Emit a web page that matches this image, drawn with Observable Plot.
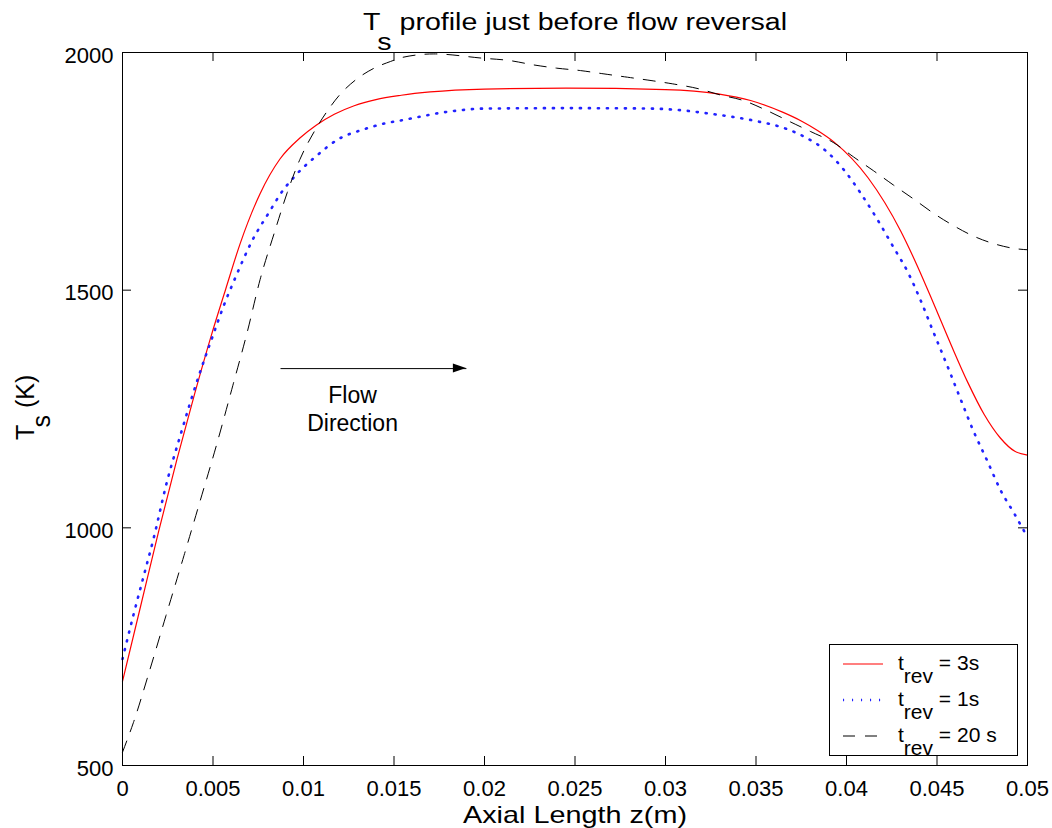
<!DOCTYPE html>
<html><head><meta charset="utf-8">
<script src="https://cdn.jsdelivr.net/npm/d3@7"></script>
<script src="https://cdn.jsdelivr.net/npm/@observablehq/plot@0.6"></script>
<style>body{margin:0;background:#fff;}</style>
</head><body><div id="chart"></div>
<script>
// ---- data ----
const zRev3 = [0,0.001,0.002,0.003,0.004,0.0049,0.0057,0.0065,0.0076,0.0087,0.0098,0.0107,0.0117,0.0128,0.0140,0.0154,0.0170,0.0200,0.0245,0.0300,0.0329,0.0347,0.0365,0.0375,0.0384,0.0393,0.0412,0.0430,0.0439,0.0448,0.0458,0.0467,0.0476,0.0485,0.0493,0.0500];
const tRev3 = [677,835,993,1143,1284,1404,1502,1598,1703,1776,1820,1847,1870,1888,1901,1910,1917,1923,1925,1922,1913,1899,1874,1856,1836,1812,1736,1624,1552,1473,1383,1306,1239,1189,1161,1153];

const zRev1 = [0,0.0006,0.00125,0.0017,0.00245,0.0032,0.0042,0.005,0.0056,0.0063,0.00715,0.0082,0.0087,0.0096,0.0107,0.0119,0.0133,0.0144,0.0155,0.0181,0.02,0.0246,0.0292,0.031,0.0325,0.0338,0.0351,0.0364,0.0375,0.0388,0.0399,0.0408,0.0417,0.0426,0.0434,0.0441,0.0448,0.0456,0.0463,0.047,0.0478,0.0485,0.0493,0.05];
const tRev1 = [724,816,910,975,1096,1195,1318,1405,1468,1532,1603,1670,1701,1743,1782,1817,1838,1850,1858,1876,1882,1883,1882,1878,1871,1864,1855,1843,1826,1795,1751,1703,1649,1590,1537,1478,1412,1338,1271,1205,1139,1080,1028,980];

const zRev20 = [0,0.0006,0.0015,0.0024,0.0034,0.0043,0.0052,0.0061,0.0069,0.0076,0.0084,0.0091,0.0098,0.0106,0.0113,0.012,0.0129,0.0139,0.0148,0.0155,0.0172,0.0199,0.0214,0.0227,0.024,0.0253,0.0266,0.0279,0.0292,0.0304,0.0318,0.033,0.0343,0.0356,0.0369,0.038,0.0393,0.0404,0.0415,0.0426,0.0437,0.0448,0.0459,0.047,0.0483,0.0494,0.05];
const tRev20 = [528,590,700,815,942,1058,1175,1300,1413,1522,1622,1705,1775,1834,1876,1911,1943,1967,1981,1990,1997,1988,1983,1974,1967,1962,1955,1948,1941,1934,1924,1911,1899,1878,1854,1834,1810,1780,1751,1721,1692,1662,1636,1614,1596,1587,1585];

const seriesLabels = ["t_{rev} = 3s", "t_{rev} = 1s", "t_{rev} = 20 s"];
const xTicks = [0,0.005,0.01,0.015,0.02,0.025,0.03,0.035,0.04,0.045,0.05];
const xTickLabels = ["0","0.005","0.01","0.015","0.02","0.025","0.03","0.035","0.04","0.045","0.05"];
const yTicks = [500,1000,1500,2000];
const yTickLabels = ["500","1000","1500","2000"];
const titleText = "T_{s} profile just before flow reversal";
const xLabelText = "Axial Length z(m)";
const yLabelText = "T_{s} (K)";
const flowNote = {z1: 0.00873, z2: 0.0190, T: 1335, lines: ["Flow", "Direction"], zText: 0.01271, T1: 1262, T2: 1203};

// ---- layout / style ----
const W = 1052, H = 828, mL = 122, mR = 25, mT = 52, mB = 63;
const pw = W - mL - mR, ph = H - mT - mB;
const font = "'Liberation Sans', Arial, Helvetica, sans-serif";
const styles = [
  {stroke: "#ff0000", strokeWidth: 1.2, dash: null},
  {stroke: "#2222ff", strokeWidth: 2.6, dash: "1.1,7.9"},
  {stroke: "#000000", strokeWidth: 1, dash: "12,10"}
];

const toRows = (zs, ts) => zs.map((z, i) => ({z, T: ts[i]}));
const series = [toRows(zRev3, tRev3), toRows(zRev1, tRev1), toRows(zRev20, tRev20)];
const tick = 9;

const svg = Plot.plot({
  width: W, height: H,
  marginLeft: mL, marginRight: mR, marginTop: mT, marginBottom: mB,
  style: {fontFamily: font, background: "white", color: "black", overflow: "visible"},
  x: {domain: [0, 0.05]},
  y: {domain: [500, 2000]},
  marks: [
    ...series.map((d, i) => Plot.line(d, {
      x: "z", y: "T", stroke: styles[i].stroke, strokeWidth: styles[i].strokeWidth,
      strokeDasharray: styles[i].dash, curve: "monotone-x"
    })),
    Plot.link([flowNote], {x1: "z1", x2: "z2", y1: "T", y2: "T", stroke: "black", strokeWidth: 1}),
    Plot.text([flowNote], {x: "zText", y: "T1", text: d => d.lines[0], fontSize: 23, lineAnchor: "bottom"}),
    Plot.text([flowNote], {x: "zText", y: "T2", text: d => d.lines[1], fontSize: 23, lineAnchor: "bottom"}),
    Plot.frame({stroke: "black", strokeWidth: 1}),
    Plot.tickX(xTicks, {x: d => d, insetTop: ph - tick, stroke: "black"}),
    Plot.tickX(xTicks, {x: d => d, insetBottom: ph - tick, stroke: "black"}),
    Plot.tickY(yTicks, {y: d => d, insetRight: pw - tick, stroke: "black"}),
    Plot.tickY(yTicks, {y: d => d, insetLeft: pw - tick, stroke: "black"}),
    Plot.axisX(xTicks, {tickSize: 0, tickPadding: 15, fontSize: 22, label: null,
      tickFormat: d => xTickLabels[xTicks.indexOf(d)]}),
    Plot.axisY(yTicks, {tickSize: 0, tickPadding: 9, fontSize: 22, label: null, dy: 3,
      tickFormat: d => yTickLabels[yTicks.indexOf(d)]}),
    Plot.text([titleText], {frameAnchor: "top", dy: -23, fontSize: 23, lineAnchor: "bottom", text: d => d}),
    Plot.text([xLabelText], {frameAnchor: "bottom", dy: 57, fontSize: 24, lineAnchor: "bottom", text: d => d}),
    Plot.text([yLabelText], {frameAnchor: "left", dx: -89, dy: 31, fontSize: 25, rotate: -90, lineAnchor: "bottom", text: d => d})
  ]
});
document.getElementById("chart").appendChild(svg);

// ---- subscript rendering (TeX-like "_{...}") and widths matching the reference ----
const subShift = {[titleText]: 20, [yLabelText]: 16};
const fitWidth = {[titleText]: 424, [xLabelText]: 224};
function richText(sel, str, shift) {
  sel.text(null);
  const parts = str.split(/(_\{[^}]*\})/).filter(p => p.length);
  let down = false;
  parts.forEach(p => {
    const isSub = p.startsWith("_{");
    const t = sel.append("tspan").text(isSub ? p.slice(2, -1) : p);
    if (isSub) { t.attr("dy", shift); down = true; }
    else if (down) { t.attr("dy", -shift); down = false; }
  });
}
d3.select(svg).selectAll("text").each(function () {
  const s = this.textContent;
  const sel = d3.select(this);
  if (s in subShift) richText(sel, s, subShift[s]);
  if (s in fitWidth) sel.attr("textLength", fitWidth[s]).attr("lengthAdjust", "spacingAndGlyphs");
});

// ---- arrow head and legend (positioned from the plot's scales / frame) ----
const xs = svg.scale("x"), ys = svg.scale("y");
const root = d3.select(svg);
const ax = xs.apply(flowNote.z2), ay = ys.apply(flowNote.T);
root.append("path").attr("d", `M${ax},${ay}L${ax - 13},${ay - 4.5}L${ax - 13},${ay + 4.5}Z`).attr("fill", "black");

const lgW = 188, lgH = 111;
const lx = W - mR - 10 - lgW, ly = H - mB - 10 - lgH;
const lg = root.append("g").attr("font-family", font).attr("font-size", 21).attr("text-anchor", "start");
lg.append("rect").attr("x", lx + 0.5).attr("y", ly + 0.5).attr("width", lgW).attr("height", lgH)
  .attr("fill", "white").attr("stroke", "black");
seriesLabels.forEach((lab, i) => {
  const ry = ly + 20 + 36 * i;
  lg.append("line").attr("x1", lx + 14).attr("x2", lx + 54).attr("y1", ry).attr("y2", ry)
    .attr("stroke", styles[i].stroke).attr("stroke-width", styles[i].strokeWidth)
    .attr("stroke-dasharray", styles[i].dash);
  const t = lg.append("text").attr("x", lx + 69).attr("y", ry + 6);
  richText(t, lab, 13);
});
</script></body></html>
